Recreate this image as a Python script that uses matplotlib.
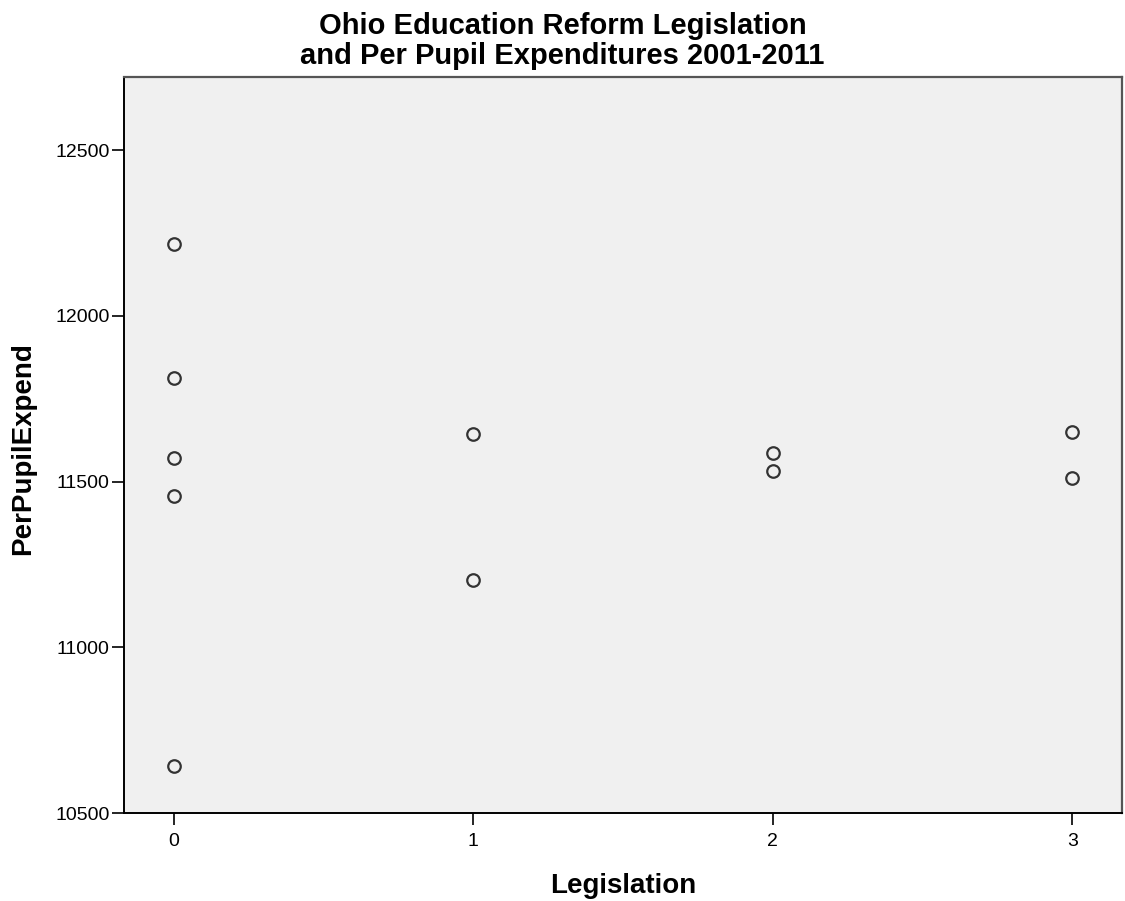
import matplotlib
matplotlib.use("Agg")
import matplotlib.pyplot as plt

# data
legislation = [0, 0, 0, 0, 0, 1, 1, 2, 2, 3, 3]
per_pupil = [12217, 11813, 11571, 11458, 10643,
             11645, 11203,
             11587, 11533,
             11650, 11510]
x_ticks = [0, 1, 2, 3]
y_ticks = [10500, 11000, 11500, 12000, 12500]

plt.rcParams["font.family"] = ["Liberation Sans", "DejaVu Sans"]

W, H = 1125, 901
fig = plt.figure(figsize=(W / 100, H / 100), dpi=100)
# axes box in pixels: left 124, right 1122, top 77, bottom 813
ax = fig.add_axes([124 / W, 1 - 813 / H, (1122 - 124) / W, (813 - 77) / H])
ax.set_facecolor("#f0f0f0")

ax.plot(legislation, per_pupil, "o", ls="none", ms=9, mfc="none",
        mec="#333333", mew=1.6)

ax.set_xlim(-0.166, 3.166)
ax.set_ylim(10500, 12721)
ax.set_xticks(x_ticks)
ax.set_yticks(y_ticks)
ax.tick_params(labelsize=14, length=8.5, width=1.2, color="black")
ax.tick_params(axis="y", pad=2)
ax.tick_params(axis="x", pad=6)

for s in ("left", "bottom"):
    ax.spines[s].set_color("black")
    ax.spines[s].set_linewidth(1.4)
for s in ("right", "top"):
    ax.spines[s].set_color("#555555")
    ax.spines[s].set_linewidth(1.6)

ax.set_xlabel("Legislation", fontsize=20, fontweight="bold")
ax.xaxis.set_label_coords(0.5, -0.082)
ax.xaxis.label.set_va("top")
ax.set_ylabel("PerPupilExpend", fontsize=20, fontweight="bold")
ax.yaxis.set_label_coords(-0.088, 0.495)

fig.suptitle("Ohio Education Reform Legislation\nand Per Pupil Expenditures 2001-2011",
             x=0.5, y=1 - 12 / H, va="top", fontsize=21, fontweight="bold",
             linespacing=1.1)

fig.savefig("out.png", dpi=100)
